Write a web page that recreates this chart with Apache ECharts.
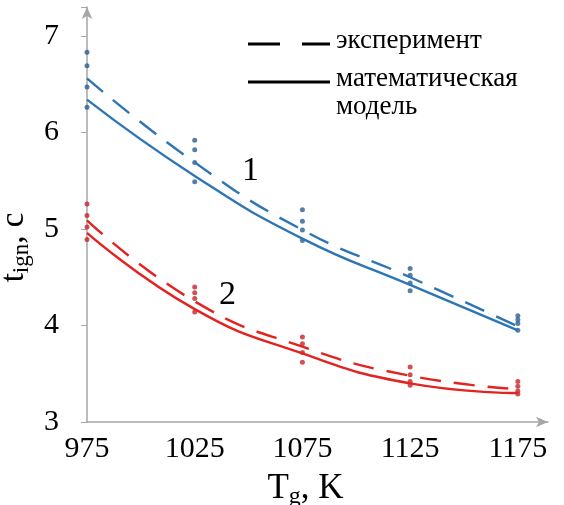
<!DOCTYPE html>
<html><head><meta charset="utf-8">
<script src="https://cdn.jsdelivr.net/npm/echarts@6/dist/echarts.min.js"></script>
<style>html,body{margin:0;padding:0;background:#fff}#c{width:564px;height:505px}</style>
</head><body><div id="c"></div>
<script>
const temps = [975, 1025, 1075, 1125, 1175];
const yTicks = [3, 4, 5, 6, 7];
// curve 1 (blue)
const blueExp   = [6.56, 5.69, 4.99, 4.50, 3.99];
const blueModel = [6.34, 5.55, 4.90, 4.42, 3.95];
// curve 2 (red)
const redExp    = [5.09, 4.25, 3.78, 3.48, 3.34];
const redModel  = [4.96, 4.17, 3.71, 3.40, 3.30];
// measured points
const blueDots = [
  [6.83, 6.69, 6.47, 6.26],
  [5.92, 5.82, 5.69, 5.49],
  [5.20, 5.08, 4.99, 4.88],
  [4.59, 4.52, 4.44, 4.36],
  [4.10, 4.06, 4.02, 3.95]
];
const redDots = [
  [5.26, 5.14, 5.02, 4.89],
  [4.40, 4.34, 4.28, 4.14],
  [3.88, 3.81, 3.72, 3.62],
  [3.57, 3.49, 3.42, 3.38],
  [3.42, 3.37, 3.32, 3.29]
];
const legendLabels = ['эксперимент', 'математическая', 'модель'];
const curveLabels = ['1', '2'];

const BLUE = '#2e75b6', RED = '#e3231f', BLUE_DOT = '#2d5f8f', RED_DOT = '#c3262c';
const pairs = a => temps.map((t, i) => [t, a[i]]);
const dots = d => { const r = []; d.forEach((vs, i) => vs.forEach(v => r.push([temps[i], v]))); return r; };
const serif = '"Liberation Serif", "Times New Roman", serif';
const txt = (text, left, top, size) => ({ type: 'text', left, top,
  style: { text, fontFamily: serif, fontSize: size, fill: '#000' } });

const chart = echarts.init(document.getElementById('c'));
chart.setOption({
  animation: false,
  grid: { left: 87, right: 16, top: 7, bottom: 83, containLabel: false, outerBoundsMode: 'none' },
  xAxis: {
    type: 'value', min: 975, max: 1189, interval: 50,
    axisLine: { lineStyle: { color: '#a6a6a6', width: 1.5 }, symbol: ['none', 'arrow'], symbolSize: [8, 12] },
    axisTick: { show: false },
    splitLine: { show: false },
    axisLabel: { fontFamily: serif, fontSize: 30, color: '#000', margin: 12,
      formatter: v => temps.includes(v) ? String(v) : '' },
    name: '{a|T}{s|g}{a|, K}', nameLocation: 'middle', nameGap: 47,
    nameTextStyle: { padding: [0, 24, 0, 0], rich: { a: { fontFamily: serif, fontSize: 35, color: '#000' }, s: { fontFamily: serif, fontSize: 24, color: '#000', padding: [16, 0, 0, 0] } } }
  },
  yAxis: {
    type: 'value', min: 3, max: 7.3, interval: 1,
    axisLine: { show: true, lineStyle: { color: '#a6a6a6', width: 1.5 }, symbol: ['none', 'arrow'], symbolSize: [8, 12] },
    axisTick: { show: true, length: 6, lineStyle: { color: '#a6a6a6' } },
    splitLine: { show: false },
    axisLabel: { fontFamily: serif, fontSize: 30, color: '#000', margin: 28,
      formatter: v => yTicks.includes(v) ? String(v) : '' },
    name: '{a|t}{s|ign}{a|, c}', nameLocation: 'middle', nameGap: 43, nameRotate: 90,
    nameTextStyle: { padding: [0, 66, 0, 0], rich: { a: { fontFamily: serif, fontSize: 33, color: '#000' }, s: { fontFamily: serif, fontSize: 23, color: '#000', padding: [15, 0, 0, 0] } } }
  },
  series: [
    { type: 'line', data: pairs(blueExp), smooth: 0.5, showSymbol: false, lineStyle: { color: BLUE, width: 2.4, type: [21, 13] } },
    { type: 'line', data: pairs(blueModel), smooth: 0.5, showSymbol: false, lineStyle: { color: BLUE, width: 2.4 } },
    { type: 'line', data: pairs(redExp), smooth: 0.5, showSymbol: false, lineStyle: { color: RED, width: 2.4, type: [21, 13] } },
    { type: 'line', data: pairs(redModel), smooth: 0.5, showSymbol: false, lineStyle: { color: RED, width: 2.4 } },
    { type: 'scatter', data: dots(blueDots), symbolSize: 5, itemStyle: { color: BLUE_DOT } },
    { type: 'scatter', data: dots(redDots), symbolSize: 5, itemStyle: { color: RED_DOT } }
  ],
  graphic: [
    { type: 'line', shape: { x1: 248, y1: 44, x2: 280, y2: 44 }, style: { stroke: '#000', lineWidth: 3 } },
    { type: 'line', shape: { x1: 302, y1: 44, x2: 330, y2: 44 }, style: { stroke: '#000', lineWidth: 3 } },
    { type: 'line', shape: { x1: 248, y1: 82, x2: 330, y2: 82 }, style: { stroke: '#000', lineWidth: 3 } },
    txt(legendLabels[0], 336, 27, 27),
    txt(legendLabels[1], 336, 65, 27),
    txt(legendLabels[2], 336, 93, 27),
    txt(curveLabels[0], 242, 154, 34),
    txt(curveLabels[1], 219, 278, 34)
  ]
});
</script></body></html>
